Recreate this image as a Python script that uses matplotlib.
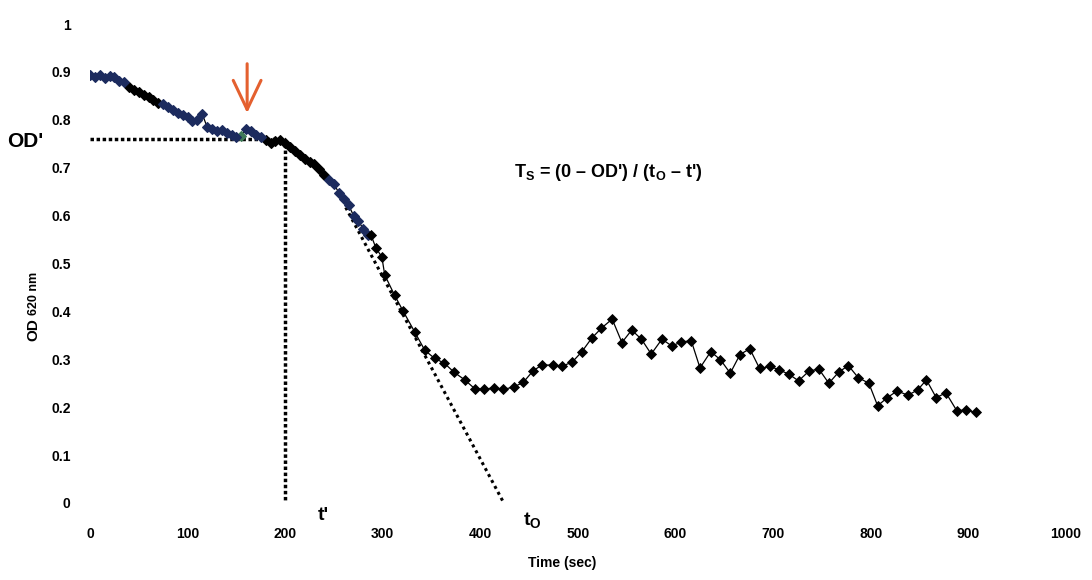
import matplotlib.pyplot as plt
import numpy as np

plt.rcParams["font.family"] = ["Liberation Sans", "DejaVu Sans"]
plt.rcParams["font.weight"] = "bold"
plt.rcParams["mathtext.fontset"] = "custom"
plt.rcParams["mathtext.rm"] = "Liberation Sans:bold"
plt.rcParams["mathtext.bf"] = "Liberation Sans:bold"

# fast-sampled reads before and during the drop (sec, OD 620 nm)
dense_time = [0, 5, 10, 15, 20, 25, 30, 35, 40, 45, 50, 55, 60, 65, 70, 75,
              80, 85, 90, 95, 100, 105, 110, 115, 120, 125, 130, 135, 140,
              145, 150, 155, 160, 165, 170, 175, 180, 185, 190, 195, 200,
              205, 210, 215, 220, 225, 230, 235, 240, 245, 250, 255, 260,
              265, 270, 275, 280, 285]
dense_od = [0.894, 0.890, 0.893, 0.888, 0.891, 0.889, 0.882, 0.878, 0.868,
            0.862, 0.857, 0.852, 0.847, 0.842, 0.836, 0.832, 0.826, 0.820,
            0.815, 0.810, 0.805, 0.798, 0.800, 0.812, 0.785, 0.780, 0.776,
            0.778, 0.772, 0.769, 0.765, 0.767, 0.780, 0.776, 0.768, 0.764,
            0.757, 0.752, 0.756, 0.758, 0.752, 0.744, 0.735, 0.726, 0.718,
            0.712, 0.707, 0.697, 0.684, 0.675, 0.665, 0.648, 0.635, 0.622,
            0.600, 0.588, 0.573, 0.560]

# slower reads afterwards
sparse_time = [288, 293, 299, 302, 312, 321, 333, 343, 353, 363, 373, 384,
               394, 404, 414, 423, 434, 444, 454, 463, 474, 484, 494, 504,
               514, 524, 535, 545, 555, 565, 575, 586, 596, 606, 616, 625,
               636, 646, 656, 666, 676, 686, 697, 706, 716, 726, 737, 747,
               757, 767, 777, 787, 798, 807, 817, 827, 838, 848, 857, 867,
               877, 888, 898, 908]
sparse_od = [0.559, 0.532, 0.514, 0.476, 0.434, 0.400, 0.356, 0.319, 0.302,
             0.292, 0.273, 0.257, 0.239, 0.237, 0.241, 0.237, 0.242, 0.252,
             0.276, 0.288, 0.288, 0.286, 0.294, 0.316, 0.344, 0.365, 0.384,
             0.335, 0.361, 0.342, 0.311, 0.342, 0.328, 0.336, 0.339, 0.282,
             0.316, 0.299, 0.271, 0.310, 0.322, 0.281, 0.285, 0.278, 0.269,
             0.255, 0.276, 0.279, 0.250, 0.273, 0.287, 0.262, 0.250, 0.203,
             0.220, 0.234, 0.225, 0.236, 0.257, 0.220, 0.230, 0.193, 0.194,
             0.189]

# highlighted stretches of the fast reads
navy = "#1c2b5e"
segments = [(0, 40, navy), (72, 152, navy), (152, 160, "#3f7a58"),
            (160, 180, navy), (242, 287, navy)]

od_prime = 0.76
t_prime = 200
t_zero = 424
tangent_start, tangent_od = 262, 0.617
arrow_time = 161
arrow_top, arrow_tip = 0.917, 0.814

fig = plt.figure(figsize=(10.92, 5.8), dpi=100)
ax = fig.add_axes([90 / 1092, 77 / 580, 976 / 1092, 479 / 580])

# construction lines for OD', t' and t0
dots = dict(color="black", lw=2.5, ls=(0, (1, 0.75)), dash_capstyle="butt")
ax.plot([0, t_prime], [od_prime, od_prime], **dots)
ax.plot([t_prime, t_prime], [od_prime - 0.01, 0], **dots)
ax.plot([tangent_start, t_zero], [tangent_od, 0], color="black", lw=2.2,
        ls=(0, (1, 1.2)), dash_capstyle="butt")

all_time = np.array(dense_time + sparse_time)
all_od = np.array(dense_od + sparse_od)
ax.plot(all_time, all_od, color="black", lw=0.9, zorder=3)

dt = np.array(dense_time)
do = np.array(dense_od)
colors = np.array(["black"] * len(dt), dtype=object)
for start, end, c in segments:
    colors[(dt >= start) & (dt < end)] = c
for c in set(colors):
    m = colors == c
    ax.plot(dt[m], do[m], ls="none", marker="D", ms=5.2, color=c,
            mec=c, mew=0.8, zorder=4)
ax.plot(sparse_time, sparse_od, ls="none", marker="D", ms=5.0,
        color="black", mew=0.6, zorder=4)

ax.annotate("", xy=(arrow_time, arrow_tip), xytext=(arrow_time, arrow_top),
            arrowprops=dict(arrowstyle="->,head_length=0.42,head_width=0.2",
                            mutation_scale=50, color="#e4602f", lw=2.2,
                            shrinkA=0, shrinkB=0),
            annotation_clip=False)

ax.set_xlim(0, 1000)
ax.set_ylim(0, 1)
ax.set_xticks(np.arange(0, 1001, 100))
ax.set_yticks(np.arange(0, 1.01, 0.1))
ax.set_yticklabels(["0", "0.1", "0.2", "0.3", "0.4", "0.5", "0.6", "0.7",
                    "0.8", "0.9", "1"])
ax.tick_params(length=0, labelsize=10)
ax.tick_params(axis="x", pad=17)
ax.tick_params(axis="y", pad=14)
for s in ax.spines.values():
    s.set_visible(False)

ax.text(-66, 0.754, "OD'", fontsize=15, ha="center", va="center",
        clip_on=False)
ax.text(239, -0.027, "t'", fontsize=14, ha="center", va="center",
        clip_on=False)
ax.text(453, -0.037, "t" + r"$_{\mathbf{O}}$", fontsize=14, ha="center",
        va="center", clip_on=False)
ax.text(531, 0.689, r"T$_{\mathbf{S}}$" + " = (0 – OD') / (t" +
        r"$_{\mathbf{O}}$" + " – t')", fontsize=13, ha="center", va="center")

fig.text(562 / 1092, 1 - 563 / 580, "Time (sec)", fontsize=10,
         ha="center", va="center")
fig.text(33 / 1092, 1 - 330 / 580, "OD", fontsize=11, rotation=90,
         ha="center", va="center")
fig.text(34 / 1092, 1 - 293 / 580, "620 nm", fontsize=9, rotation=90,
         ha="center", va="center")

fig.savefig("out.png", dpi=100)
